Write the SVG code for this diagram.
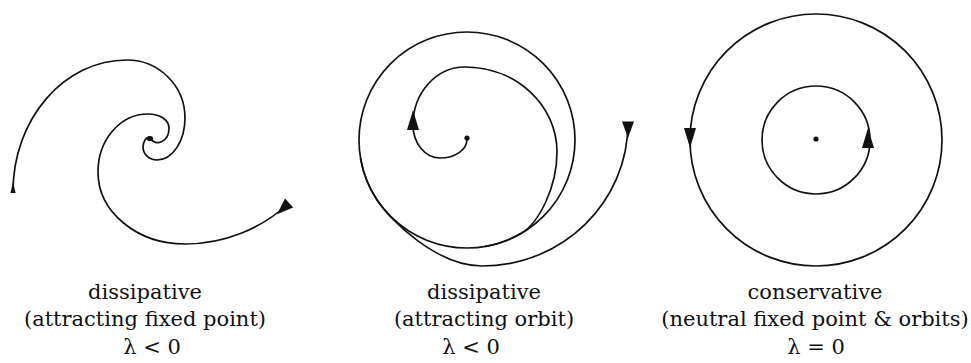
<svg xmlns="http://www.w3.org/2000/svg" width="971" height="363" viewBox="0 0 971 363">
<style>
.c{fill:none;stroke:#111;stroke-width:1.7;stroke-linecap:round}
.d{fill:#111}
text{font-family:"DejaVu Serif","Liberation Serif",serif;font-size:21px;fill:#111;text-anchor:middle}
</style>
<defs>
<marker id="tail" markerUnits="userSpaceOnUse" markerWidth="20" markerHeight="20" refX="0" refY="0" orient="auto-start-reverse" overflow="visible">
<path d="M1.5,-6 L1.5,6 L-15,0 Z" fill="#111"/>
</marker>
<marker id="tailS" markerUnits="userSpaceOnUse" markerWidth="12" markerHeight="12" refX="0" refY="0" orient="auto-start-reverse" overflow="visible">
<path d="M1,-2.6 L1,2.6 L-10,0 Z" fill="#111"/>
</marker>
<path id="tri" d="M0,-11 L6,9 L-6,9 Z" fill="#111"/>
</defs>

<g id="panel1">
<path class="c" marker-start="url(#tailS)" d="M13,192 C13,119 64,60 127,60 C159,60 185,86 185,118 C185,141 172.5,160 157,160 C149,160 143,154 143,147 C143,141.5 146,137 150,137"/>
<path class="c" marker-end="url(#tail)" d="M151,139 C155,146 169,143 169,128 C169,120 160,114 148,114 C120,114 98,140 98,172 C98,212 137,244 185,244 C225,244 262,228 288,204"/>
<ellipse class="d" cx="150" cy="138.5" rx="3.2" ry="2.6"/>
<text x="145" y="299">dissipative</text>
<text x="145" y="326">(attracting fixed point)</text>
<text x="152" y="354">λ &lt; 0</text>
</g>

<g id="panel2">
<circle class="c" cx="467" cy="140" r="108"/>
<path class="c" d="M467,139 C467,150 455,158 440,158 C425,158 413,143 413,125 C413,93 436,67 465,67 C516,67 557,105 557,152 C557,188 538.3,223.5 521,233.5 A108,108 0 0 1 485.8,246.4"/>
<path class="c" marker-start="url(#tail)" d="M628,123 C628,202 563,266 482,266 C437,266 391,221 377,200 A108,108 0 0 1 360.6,158.8"/>
<circle class="d" cx="467" cy="138" r="2.6"/>
<use href="#tri" x="413" y="121"/>
<text x="484" y="299">dissipative</text>
<text x="484" y="326">(attracting orbit)</text>
<text x="471" y="354">λ &lt; 0</text>
</g>

<g id="panel3">
<circle class="c" cx="816" cy="140" r="126"/>
<circle class="c" cx="816" cy="140" r="54"/>
<circle class="d" cx="816" cy="139" r="2.6"/>
<use href="#tri" transform="translate(690,137) rotate(180)"/>
<use href="#tri" x="868" y="139"/>
<text x="815" y="299">conservative</text>
<text x="815" y="326">(neutral fixed point &amp; orbits)</text>
<text x="816" y="354">λ = 0</text>
</g>
</svg>
